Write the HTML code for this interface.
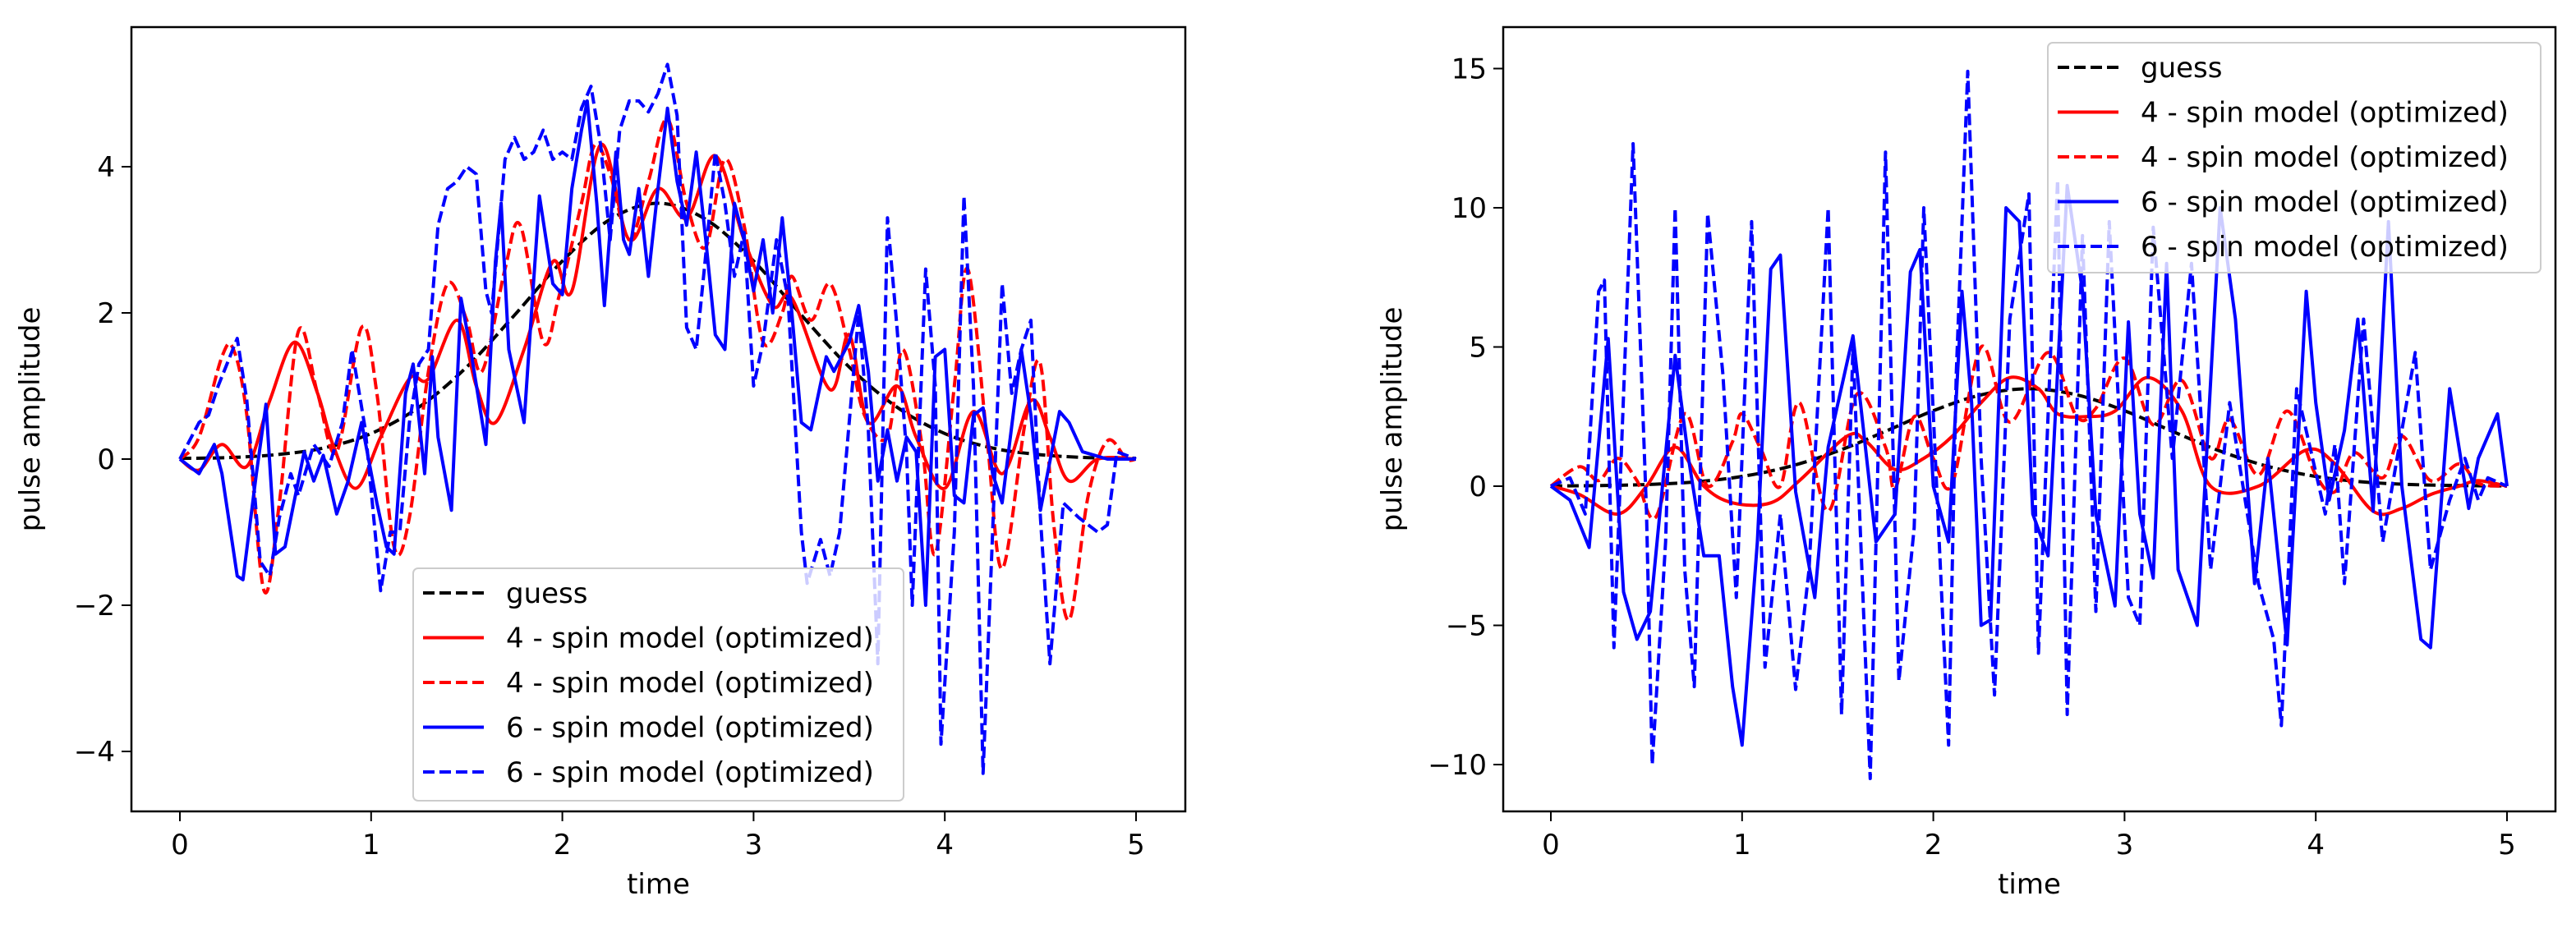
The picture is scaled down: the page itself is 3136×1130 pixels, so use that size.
<!DOCTYPE html>
<html><head><meta charset="utf-8"><style>
html,body{margin:0;padding:0;background:#fff;}
svg{display:block;}
text{font-family:"DejaVu Sans","Liberation Sans",sans-serif;fill:#000;}
</style></head>
<body>
<svg id="fig" width="3136" height="1130" viewBox="0 0 3136 1130" xmlns="http://www.w3.org/2000/svg">
<rect width="3136" height="1130" fill="#fff"/>
<g id="left"></g>
<g id="right"></g>
</svg>
<script>
// ---------- data ----------
const legendLabels = ["guess","4 - spin model (optimized)","4 - spin model (optimized)","6 - spin model (optimized)","6 - spin model (optimized)"];
const xTicks = [0,1,2,3,4,5];
const leftYTicks = [-4,-2,0,2,4];
const rightYTicks = [-10,-5,0,5,10,15];

const guessT = [0,0.25,0.5,0.75,1,1.25,1.5,1.75,2,2.25,2.5,2.75,3,3.25,3.5,3.75,4,4.25,4.5,4.75,5];
const guessY = [0.01,0.02,0.06,0.15,0.35,0.71,1.26,1.97,2.71,3.28,3.5,3.28,2.71,1.97,1.26,0.71,0.35,0.15,0.06,0.02,0.01];

const lRedSolidT = [0,0.1,0.22,0.35,0.47,0.6,0.72,0.8,0.92,1.05,1.2,1.3,1.45,1.55,1.65,1.8,1.95,2.05,2.2,2.35,2.5,2.65,2.8,2.95,3.1,3.2,3.4,3.5,3.6,3.75,3.85,4.0,4.15,4.3,4.45,4.55,4.65,4.8,5];
const lRedSolidY = [0,-0.15,0.2,-0.1,0.8,1.6,0.9,0.2,-0.4,0.3,1.1,1.1,1.9,1.0,0.5,1.5,2.7,2.3,4.3,3.0,3.7,3.3,4.15,3.0,2.1,2.2,0.95,1.7,0.5,1.0,0.3,-0.4,0.65,-0.2,0.8,0.3,-0.3,0,0];

const lRedDashT = [0,0.1,0.22,0.28,0.35,0.44,0.52,0.62,0.72,0.82,0.95,1.03,1.12,1.2,1.3,1.4,1.5,1.58,1.7,1.78,1.9,1.98,2.1,2.17,2.25,2.35,2.45,2.55,2.65,2.75,2.85,2.95,3.05,3.15,3.2,3.3,3.4,3.5,3.58,3.7,3.78,3.88,3.95,4.05,4.12,4.22,4.3,4.42,4.5,4.57,4.65,4.75,4.85,4.95,5];
const lRedDashY = [0,0.3,1.4,1.5,0.6,-1.8,-0.6,1.75,0.9,0.1,1.8,0.9,-1.2,-0.8,1.2,2.4,1.9,1.2,2.6,3.2,1.6,2.2,3.5,4.3,3.9,3.0,3.8,4.65,3.5,2.9,4.1,3.2,1.6,2.0,2.5,1.9,2.4,1.5,0.6,0.3,1.5,0.2,-1.3,1.0,2.6,0.3,-1.5,0.5,1.3,-0.9,-2.2,-0.5,0.25,0,0];

const lBlueSolidT = [0,0.1,0.18,0.22,0.3,0.33,0.4,0.45,0.5,0.55,0.65,0.7,0.75,0.82,0.88,0.95,1.03,1.08,1.12,1.18,1.22,1.28,1.32,1.35,1.42,1.47,1.52,1.6,1.65,1.68,1.72,1.8,1.88,1.95,2.0,2.05,2.1,2.13,2.18,2.22,2.28,2.32,2.35,2.4,2.45,2.5,2.55,2.6,2.65,2.7,2.75,2.8,2.85,2.9,2.95,3.0,3.05,3.1,3.15,3.2,3.25,3.3,3.38,3.42,3.5,3.55,3.6,3.65,3.7,3.75,3.8,3.85,3.9,3.95,4.0,4.05,4.1,4.15,4.2,4.25,4.3,4.4,4.45,4.5,4.6,4.65,4.72,4.85,5];
const lBlueSolidY = [0,-0.2,0.2,-0.2,-1.6,-1.65,-0.2,0.75,-1.3,-1.2,0.1,-0.3,0.05,-0.75,-0.3,0.5,-0.6,-1.2,-1.3,0.9,1.3,-0.2,1.4,0.3,-0.7,2.2,1.5,0.2,2.7,3.5,1.5,0.5,3.6,2.4,2.25,3.7,4.5,4.9,3.5,2.1,4.2,3.0,2.8,3.7,2.5,3.7,4.8,3.8,3.2,4.2,3.0,1.7,1.5,3.5,3.0,2.3,3.0,2.0,3.3,2.0,0.5,0.4,1.4,1.2,1.6,2.1,1.2,-0.3,0.4,-0.3,0.3,0.1,-2.0,1.4,1.5,-0.5,-0.6,0.6,0.7,-0.2,-0.6,1.5,0.6,-0.7,0.65,0.5,0.1,0,0];

const lBlueDashT = [0,0.1,0.15,0.2,0.3,0.35,0.42,0.47,0.52,0.58,0.62,0.7,0.78,0.85,0.9,0.97,1.05,1.1,1.15,1.2,1.25,1.3,1.35,1.4,1.45,1.5,1.55,1.6,1.63,1.7,1.75,1.8,1.85,1.9,1.95,2.0,2.05,2.1,2.15,2.2,2.25,2.3,2.35,2.4,2.45,2.5,2.55,2.6,2.65,2.7,2.75,2.8,2.85,2.9,2.95,3.0,3.05,3.12,3.18,3.25,3.28,3.35,3.4,3.45,3.5,3.55,3.6,3.65,3.7,3.75,3.8,3.83,3.9,3.95,3.98,4.05,4.1,4.15,4.2,4.25,4.3,4.35,4.4,4.45,4.5,4.55,4.62,4.7,4.8,4.85,4.9,5];
const lBlueDashY = [0,0.5,0.6,1.0,1.65,0.8,-1.4,-1.6,-0.8,-0.2,-0.5,0.2,-0.1,0.5,1.5,0.4,-1.8,-1.0,-1.0,0.5,1.3,1.5,3.2,3.7,3.8,4.0,3.9,2.3,2.0,4.1,4.4,4.1,4.2,4.5,4.1,4.2,4.1,4.8,5.1,4.3,3.0,4.5,4.9,4.9,4.75,5.0,5.4,4.7,1.8,1.5,2.8,4.2,3.5,2.5,3.1,1.0,1.6,3.0,2.2,-1.0,-1.7,-1.1,-1.6,-1.0,0.5,2.0,0.4,-2.8,3.3,1.8,0.1,-2.0,2.6,1.0,-3.9,-1.0,3.6,1.0,-4.3,-1.0,2.4,0.9,1.5,1.9,-0.8,-2.8,-0.6,-0.8,-1.0,-0.9,0.1,0];

const rRedSolidT = [0,0.15,0.35,0.5,0.65,0.8,0.95,1.15,1.3,1.55,1.65,1.8,1.95,2.1,2.25,2.4,2.55,2.65,2.8,2.95,3.12,3.3,3.45,3.7,3.95,4.1,4.3,4.45,4.6,4.75,4.85,5];
const rRedSolidY = [0,-0.3,-1.0,0,1.4,0,-0.6,-0.6,0.2,1.8,1.6,0.6,1.0,1.8,3.0,3.9,3.5,2.6,2.5,2.7,3.9,2.7,0,0,1.3,0.8,-0.9,-0.8,-0.3,0,0.2,0];

const rRedDashT = [0,0.15,0.25,0.35,0.45,0.55,0.7,0.82,0.95,1.0,1.1,1.2,1.3,1.45,1.6,1.75,1.8,1.9,2.0,2.1,2.25,2.4,2.6,2.75,2.85,3.0,3.15,3.3,3.45,3.55,3.7,3.85,4.0,4.1,4.2,4.35,4.45,4.6,4.75,4.85,5];
const rRedDashY = [0,0.7,0.2,1.0,0.2,-1.1,2.6,0,1.6,2.6,1.3,0,3.0,-0.9,3.3,1.4,-0.1,2.5,1.0,0.1,5.0,2.3,4.8,2.5,2.8,4.6,2.2,3.8,1.0,2.4,0.4,2.7,0.4,-0.2,1.2,0.3,1.8,0.2,0.8,0.1,0];

const rBlueSolidT = [0,0.1,0.2,0.3,0.38,0.45,0.52,0.65,0.72,0.8,0.88,0.95,1.0,1.08,1.15,1.2,1.28,1.38,1.45,1.58,1.7,1.8,1.88,1.93,2.0,2.08,2.15,2.2,2.25,2.3,2.38,2.45,2.52,2.6,2.7,2.78,2.85,2.95,3.02,3.08,3.15,3.22,3.28,3.38,3.5,3.58,3.68,3.75,3.85,3.95,4.0,4.07,4.15,4.22,4.3,4.38,4.45,4.55,4.6,4.7,4.8,4.85,4.95,5];
const rBlueSolidY = [0,-0.5,-2.2,5.3,-3.8,-5.5,-4.5,4.7,1.0,-2.5,-2.5,-7.2,-9.3,-2.0,7.8,8.3,-0.2,-4.0,1.4,5.4,-2.0,-1.0,7.7,8.5,0,-2.0,7.0,3.0,-5.0,-4.8,10.0,9.5,-1.0,-2.5,10.8,7.0,-1.0,-4.3,5.9,-1.0,-3.3,8.0,-3.0,-5.0,10.0,6.0,-3.5,1.0,-5.7,7.0,3.0,-0.5,2.0,6.0,-0.9,9.5,0,-5.5,-5.8,3.5,-0.8,1.0,2.6,0];

const rBlueDashT = [0,0.1,0.18,0.25,0.28,0.33,0.43,0.5,0.53,0.6,0.65,0.7,0.75,0.82,0.9,0.97,1.05,1.12,1.2,1.28,1.35,1.45,1.52,1.58,1.67,1.75,1.82,1.9,1.95,2.08,2.12,2.18,2.25,2.32,2.4,2.5,2.55,2.65,2.7,2.78,2.85,2.92,3.02,3.08,3.15,3.25,3.35,3.45,3.55,3.7,3.78,3.82,3.9,4.05,4.1,4.15,4.25,4.35,4.52,4.6,4.7,4.78,4.85,4.9,5];
const rBlueDashY = [0,0.3,-1.0,7.0,7.4,-5.8,12.3,-0.9,-10.0,-2.0,10.0,-3.0,-7.2,9.8,4.0,-4.0,9.5,-6.5,-1.0,-7.3,-3.0,10.0,-8.2,5.0,-10.5,12.0,-7.0,-1.5,10.0,-9.3,4.0,14.9,1.0,-7.5,6.0,10.5,-6.0,11.0,-8.2,9.0,-4.5,9.5,-4.0,-5.0,9.3,1.0,8.0,-3.0,3.0,-3.5,-5.5,-8.6,3.5,-1.0,1.5,-3.5,6.0,-2.0,4.8,-3.0,-0.5,1.0,-0.5,0.3,0];

// ---------- rendering ----------
const NS = "http://www.w3.org/2000/svg";
function mk(tag, attrs, parent) {
  const e = document.createElementNS(NS, tag);
  for (const k in attrs) e.setAttribute(k, attrs[k]);
  parent.appendChild(e);
  return e;
}
const DASH = "14,6";
const styles = [
  {c:"#000000", d:DASH, smooth:true},
  {c:"#ff0000", d:null, smooth:true},
  {c:"#ff0000", d:DASH, smooth:true},
  {c:"#0000ff", d:null, smooth:false},
  {c:"#0000ff", d:DASH, smooth:false}
];
const seriesNames = ["guess-line","red-solid-line","red-dashed-line","blue-solid-line","blue-dashed-line"];

function pathFrom(P, smooth) {
  let d = "M" + P[0][0].toFixed(1) + "," + P[0][1].toFixed(1);
  for (let i = 0; i < P.length - 1; i++) {
    if (!smooth) { d += " L" + P[i+1][0].toFixed(1) + "," + P[i+1][1].toFixed(1); continue; }
    const p0 = P[Math.max(0, i-1)], p1 = P[i], p2 = P[i+1], p3 = P[Math.min(P.length-1, i+2)];
    const c1x = p1[0] + (p2[0]-p0[0])/6, c1y = p1[1] + (p2[1]-p0[1])/6;
    const c2x = p2[0] - (p3[0]-p1[0])/6, c2y = p2[1] - (p3[1]-p1[1])/6;
    d += " C" + c1x.toFixed(1) + "," + c1y.toFixed(1) + " " + c2x.toFixed(1) + "," + c2y.toFixed(1) + " " + p2[0].toFixed(1) + "," + p2[1].toFixed(1);
  }
  return d;
}

function drawChart(g, cfg) {
  const xs = t => cfg.x0 + t * (cfg.x5 - cfg.x0) / 5;
  const ys = v => cfg.yZero - v * cfg.yScale;
  const clipId = cfg.id + "-clip";
  const defs = mk("defs", {}, g);
  const cp = mk("clipPath", {id: clipId}, defs);
  mk("rect", {x: cfg.L, y: cfg.T, width: cfg.R - cfg.L, height: cfg.B - cfg.T}, cp);
  const plot = mk("g", {"clip-path": "url(#" + clipId + ")"}, g);
  
  
  cfg.series.forEach((s, i) => {
    const P = s[0].map((t, j) => [xs(t), ys(s[1][j])]);
    const pl = mk("path", {d: pathFrom(P, styles[i].smooth), fill: "none", stroke: styles[i].c, "stroke-width": 4, "stroke-linejoin": "round"}, plot);
    if (styles[i].d) pl.setAttribute("stroke-dasharray", styles[i].d);
    
    
  });
  const fr = mk("rect", {x: cfg.L, y: cfg.T, width: cfg.R - cfg.L, height: cfg.B - cfg.T, fill: "none", stroke: "#000", "stroke-width": 2.5}, g);
  
  
  xTicks.forEach(t => {
    const x = xs(t);
    mk("line", {x1: x, x2: x, y1: cfg.B, y2: cfg.B + 12, stroke: "#000", "stroke-width": 2}, g);
    const tx = mk("text", {x: x, y: cfg.B + 52, "font-size": 34, "text-anchor": "middle"}, g);
    tx.textContent = String(t);
    
    
  });
  cfg.yTicks.forEach(v => {
    const y = ys(v);
    mk("line", {x1: cfg.L - 12, x2: cfg.L, y1: y, y2: y, stroke: "#000", "stroke-width": 2}, g);
    const tx = mk("text", {x: cfg.L - 20, y: y + 12, "font-size": 34, "text-anchor": "end"}, g);
    tx.textContent = v < 0 ? "\u2212" + Math.abs(v) : String(v);
    
    
  });
  const xl = mk("text", {x: (cfg.L + cfg.R) / 2, y: cfg.B + 100, "font-size": 34, "text-anchor": "middle"}, g);
  xl.textContent = "time";
  
  
  const yl = mk("text", {x: 0, y: 0, "font-size": 34, "text-anchor": "middle", transform: "translate(" + cfg.ylx + "," + ((cfg.T + cfg.B) / 2) + ") rotate(-90)"}, g);
  yl.textContent = "pulse amplitude";
  
  
  const lg = mk("g", {}, g);
  
  
  mk("rect", {x: cfg.lgX, y: cfg.lgY, width: cfg.lgW, height: cfg.lgH, rx: 6, fill: "#fff", "fill-opacity": 0.8, stroke: "#cccccc", "stroke-width": 2}, lg);
  legendLabels.forEach((lab, i) => {
    const cy = cfg.lgY + 30 + i * 54.5;
    const ln = mk("line", {x1: cfg.lgX + 12, x2: cfg.lgX + 86, y1: cy, y2: cy, stroke: styles[i].c, "stroke-width": 4}, lg);
    if (styles[i].d) ln.setAttribute("stroke-dasharray", DASH);
    const tx = mk("text", {x: cfg.lgX + 113, y: cy + 12, "font-size": 34}, lg);
    tx.textContent = lab;
    
    
  });
}

drawChart(document.getElementById("left"), {
  id: "l", L: 160, R: 1443, T: 33, B: 988, x0: 219, x5: 1383, yZero: 559, yScale: 89,
  yTicks: leftYTicks, ylx: 48,
  lgX: 503, lgY: 692, lgW: 597, lgH: 283,
  series: [[guessT, guessY], [lRedSolidT, lRedSolidY], [lRedDashT, lRedDashY], [lBlueSolidT, lBlueSolidY], [lBlueDashT, lBlueDashY]]
});
drawChart(document.getElementById("right"), {
  id: "r", L: 1830, R: 3111, T: 33, B: 988, x0: 1888, x5: 3052, yZero: 592, yScale: 33.9,
  yTicks: rightYTicks, ylx: 1706,
  lgX: 2493, lgY: 52, lgW: 600, lgH: 280,
  series: [[guessT, guessY], [rRedSolidT, rRedSolidY], [rRedDashT, rRedDashY], [rBlueSolidT, rBlueSolidY], [rBlueDashT, rBlueDashY]]
});
</script>
</body></html>
